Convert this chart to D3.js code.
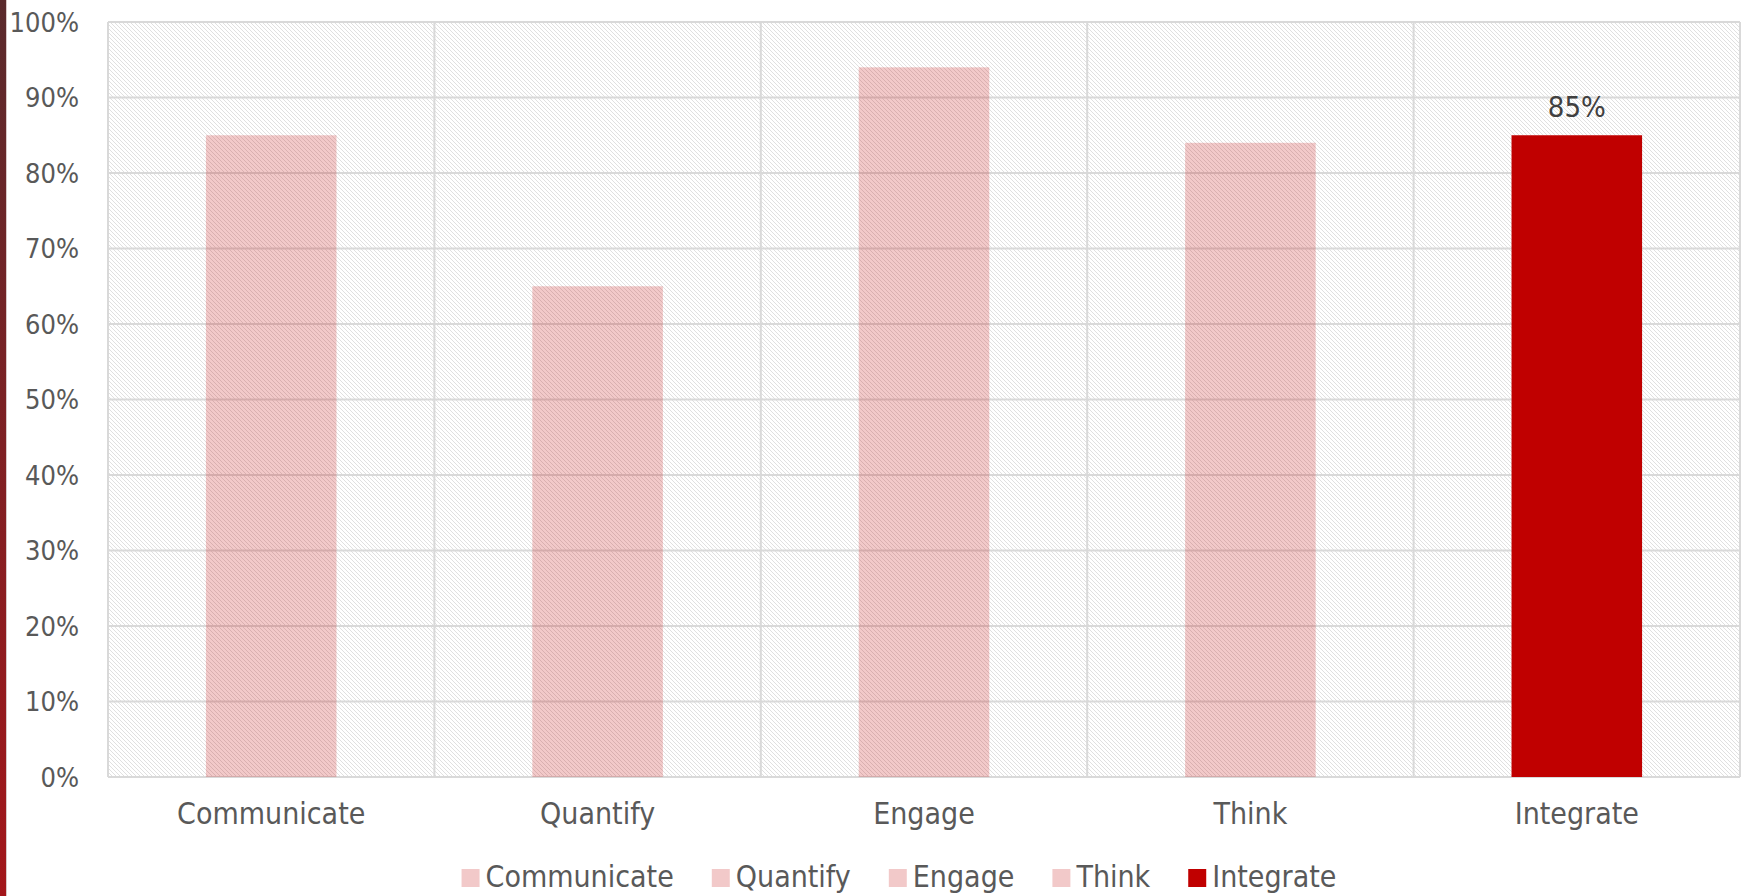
<!DOCTYPE html>
<html lang="en">
  <head>
    <meta charset="utf-8">
    <title>Outcomes</title>
    <script src="https://d3js.org/d3.v7.min.js"></script>
    <style>
      body { margin: 0; background: #fff; }
      text { font-family: "DejaVu Sans Condensed", "DejaVu Sans", sans-serif; }
      .tick text { fill: #595959; }
    </style>
  </head>
  <body>
    <div id="chart"></div>
    <script>

      var categories = ["Communicate", "Quantify", "Engage", "Think", "Integrate"];
      var values = [85, 65, 94, 84, 85];
      var yTicks = [0, 10, 20, 30, 40, 50, 60, 70, 80, 90, 100];
      var highlight = "Integrate";

      var width = 1742;
      var height = 896;
      var margin = {top: 22, left: 108, right: 2, bottom: 119};
      var red = "#c00000";

      var data = categories.map(function(c, i){ return {x: c, y: values[i]}; });

      var svg = d3.select("#chart")
        .append("svg")
        .attr("width", width)
        .attr("height", height);

      var defs = svg.append("defs");

      // hatched plot background
      var hatch = defs.append("pattern")
        .attr("id", "hatch")
        .attr("patternUnits", "userSpaceOnUse")
        .attr("width", 4)
        .attr("height", 4);
      hatch.append("rect").attr("width", 4).attr("height", 4).attr("fill", "#fff");
      [0, 1, 2, 3].forEach(function(i){
        hatch.append("rect")
          .attr("x", i).attr("y", i)
          .attr("width", 1).attr("height", 1)
          .attr("fill", "#e0e0e0");
      });

      // slide edge stripe on the left
      var grad = defs.append("linearGradient")
        .attr("id", "edge")
        .attr("x1", 0).attr("y1", 0).attr("x2", 0).attr("y2", 1);
      grad.append("stop").attr("offset", "0%").attr("stop-color", "#5a2a2c");
      grad.append("stop").attr("offset", "100%").attr("stop-color", "#a3161a");

      svg.append("rect")
        .attr("x", 0).attr("y", 0)
        .attr("width", 6).attr("height", height)
        .attr("fill", "url(#edge)");
      svg.append("rect")
        .attr("x", 6).attr("y", 0)
        .attr("width", 1).attr("height", height)
        .attr("fill", "#d8c8c8");

      var xScale = d3.scaleBand()
        .domain(categories)
        .range([margin.left, width - margin.right])
        .paddingInner(0)
        .paddingOuter(0);

      var yScale = d3.scaleLinear()
        .domain([0, 100])
        .range([height - margin.bottom, margin.top]);

      // plot area
      svg.append("rect")
        .attr("x", margin.left)
        .attr("y", margin.top)
        .attr("width", width - margin.right - margin.left)
        .attr("height", height - margin.bottom - margin.top)
        .attr("fill", "url(#hatch)");

      // horizontal gridlines
      svg.append("g")
        .selectAll("line")
        .data(yTicks)
        .enter()
        .append("line")
          .attr("x1", margin.left)
          .attr("x2", width - margin.right)
          .attr("y1", function(d){ return yScale(d); })
          .attr("y2", function(d){ return yScale(d); })
          .attr("stroke", "#d9d9d9")
          .attr("stroke-width", 2);

      // vertical gridlines between categories
      var bounds = categories.map(function(c){ return xScale(c); }).concat([width - margin.right]);
      svg.append("g")
        .selectAll("line")
        .data(bounds)
        .enter()
        .append("line")
          .attr("x1", function(d){ return d; })
          .attr("x2", function(d){ return d; })
          .attr("y1", margin.top)
          .attr("y2", height - margin.bottom)
          .attr("stroke", "#d9d9d9")
          .attr("stroke-width", 2);

      // bars
      var barW = xScale.bandwidth() * 0.4;
      svg.append("g")
        .selectAll("rect")
        .data(data)
        .enter()
        .append("rect")
          .attr("x", function(d){ return xScale(d.x) + (xScale.bandwidth() - barW) / 2; })
          .attr("y", function(d){ return yScale(d.y); })
          .attr("width", barW)
          .attr("height", function(d){ return yScale(0) - yScale(d.y); })
          .attr("fill", red)
          .attr("fill-opacity", function(d){ return d.x == highlight ? 1 : 0.21; });

      // data label on the highlighted bar
      svg.append("g")
        .selectAll("text")
        .data(data.filter(function(d){ return d.x == highlight; }))
        .enter()
        .append("text")
          .attr("x", function(d){ return xScale(d.x) + xScale.bandwidth() / 2; })
          .attr("y", function(d){ return yScale(d.y) - 18; })
          .attr("text-anchor", "middle")
          .attr("fill", "#404040")
          .style("font-size", "29px")
          .text(function(d){ return d.y + "%"; });

      // axes
      var yAxis = svg.append("g")
        .attr("transform", `translate(${margin.left},0)`)
        .call(d3.axisLeft(yScale).tickValues(yTicks).tickSize(0).tickPadding(29)
          .tickFormat(function(d){ return d + "%"; }));
      yAxis.select(".domain").remove();
      yAxis.selectAll("text").style("font-size", "27px").attr("dy", "0.35em");

      var xAxis = svg.append("g")
        .attr("transform", `translate(0,${height - margin.bottom})`)
        .call(d3.axisBottom(xScale).tickSize(0).tickPadding(26));
      xAxis.select(".domain").remove();
      xAxis.selectAll("text").style("font-size", "30px").attr("dy", "0.71em");

      // legend
      var legend = svg.append("g");
      var items = legend.selectAll("g")
        .data(data)
        .enter()
        .append("g");
      items.append("rect")
        .attr("y", -18)
        .attr("width", 18)
        .attr("height", 18)
        .attr("fill", red)
        .attr("fill-opacity", function(d){ return d.x == highlight ? 1 : 0.21; });
      items.append("text")
        .attr("x", 24)
        .attr("fill", "#595959")
        .style("font-size", "30px")
        .text(function(d){ return d.x; });

      var gap = 38;
      var pos = 0;
      items.each(function(){
        var g = d3.select(this);
        g.attr("transform", `translate(${pos},0)`);
        pos += 24 + g.select("text").node().getComputedTextLength() + gap;
      });
      pos -= gap;
      legend.attr("transform", `translate(${899 - pos / 2},887)`);

    </script>
  </body>
</html>
